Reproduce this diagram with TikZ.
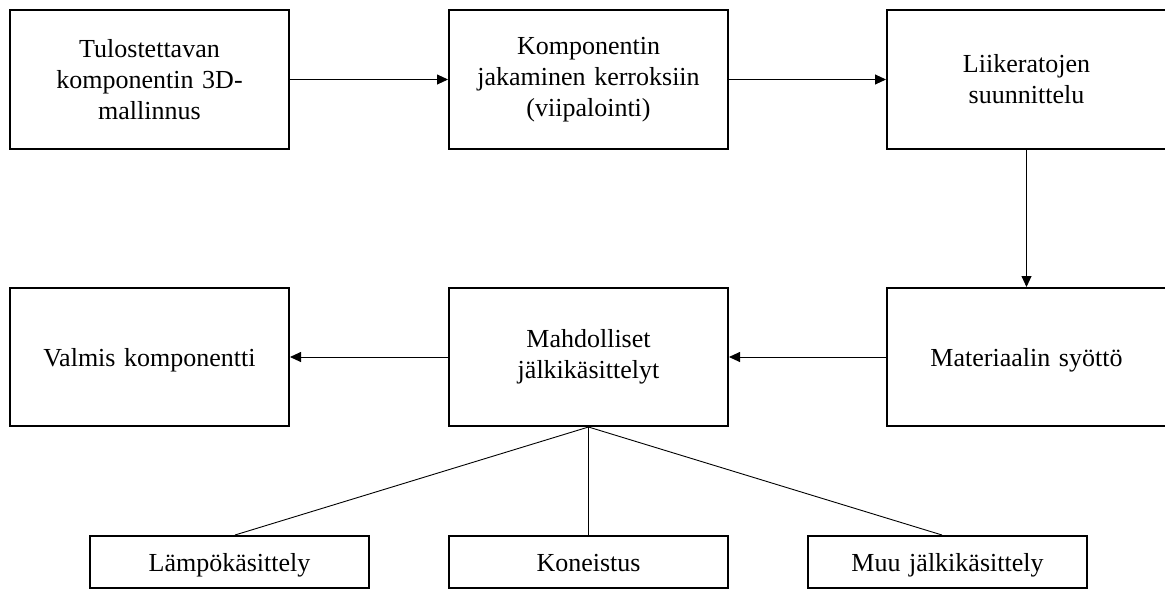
\documentclass[tikz,border=0pt]{standalone}
\usepackage{fontspec}
\setmainfont{Liberation Serif}
\usetikzlibrary{arrows.meta}

\tikzset{
  stepbox/.style={draw, line width=2pt, minimum width=279pt, minimum height=139pt,
    inner sep=0pt, align=center, text width=260pt,
    font=\fontsize{26}{31}\selectfont},
  oneline/.style={text height=18pt, text depth=0pt},
  subbox/.style={stepbox, oneline, minimum height=52pt},
  flow/.style={line width=0.9pt, -{Triangle[length=11pt,width=10pt]}},
  branch/.style={line width=0.9pt}
}

\begin{document}
\begin{tikzpicture}[x=1pt,y=-1pt]
  \useasboundingbox (0,0) rectangle (1165,590);

  % upper row
  \node[stepbox] (model)  at (149.5,79.5) {Tulostettavan\\komponentin 3D-\\mallinnus};
  \node[stepbox] (slice)  at (588.5,79.5) {Komponentin\\jakaminen kerroksiin\\(viipalointi)};
  \node[stepbox] (path)   at (1026.5,79.5) {Liikeratojen\\suunnittelu};

  % lower row
  \node[stepbox, oneline, minimum height=138pt] (feed) at (1026.5,357) {Materiaalin syöttö};
  \node[stepbox, minimum height=138pt] (post)          at (588.5,357) {Mahdolliset\\jälkikäsittelyt};
  \node[stepbox, oneline, minimum height=138pt] (done) at (149.5,357) {Valmis komponentti};

  % post-processing options
  \node[subbox] (heat)    at (229.5,562) {Lämpökäsittely};
  \node[subbox] (machine) at (588.5,562) {Koneistus};
  \node[subbox] (other)   at (947.5,562) {Muu jälkikäsittely};

  % process flow
  \draw[flow] (model) -- (slice);
  \draw[flow] (slice) -- (path);
  \draw[flow] (path) -- (feed);
  \draw[flow] (feed) -- (post);
  \draw[flow] (post) -- (done);

  % branches
  \draw[branch] (post.south) -- ([xshift=5.5pt]heat.north);
  \draw[branch] (post.south) -- (machine.north);
  \draw[branch] (post.south) -- ([xshift=-5.5pt]other.north);
\end{tikzpicture}
\end{document}
